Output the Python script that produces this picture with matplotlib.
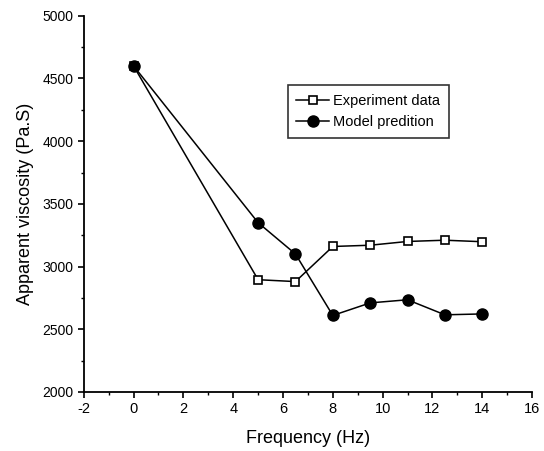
import matplotlib.pyplot as plt
from matplotlib.ticker import MultipleLocator

plt.rcParams['font.family'] = ['Liberation Sans', 'DejaVu Sans']
plt.rcParams['axes.unicode_minus'] = False

freq = [0, 5, 6.5, 8, 9.5, 11, 12.5, 14]
experiment = [4600, 2895, 2880, 3160, 3170, 3200, 3210, 3198]
model = [4600, 3350, 3100, 2610, 2710, 2735, 2615, 2622]

fig = plt.figure(figsize=(5.44, 4.51), dpi=100)
ax = fig.add_axes([0.154, 0.131, 0.824, 0.834])

ax.plot(freq, experiment, color='black', lw=1.1, marker='s', ms=6,
        mfc='white', mec='black', mew=1.2, label='Experiment data')
ax.plot(freq, model, color='black', lw=1.1, marker='o', ms=8,
        mfc='black', mec='black', label='Model predition')

ax.set_xlim(-2, 16)
ax.set_ylim(2000, 5000)
ax.xaxis.set_major_locator(MultipleLocator(2))
ax.xaxis.set_minor_locator(MultipleLocator(1))
ax.yaxis.set_major_locator(MultipleLocator(500))
ax.yaxis.set_minor_locator(MultipleLocator(250))
ax.tick_params(which='major', direction='out', length=4, width=1.2, labelsize=10.5)
ax.tick_params(which='minor', direction='out', length=2.5, width=1.0)
ax.tick_params(axis='y', labelsize=10)

for s in ['top', 'right']:
    ax.spines[s].set_visible(False)
for s in ['left', 'bottom']:
    ax.spines[s].set_linewidth(1.3)

ax.set_xlabel('Frequency (Hz)', fontsize=13, labelpad=10)
ax.set_ylabel('Apparent viscosity (Pa.S)', fontsize=13, labelpad=6)

leg = ax.legend(loc='upper left', bbox_to_anchor=(0.455, 0.816), fontsize=10.5,
                frameon=True, fancybox=False, edgecolor='black',
                handlelength=2.2, handletextpad=0.3, borderpad=0.6,
                borderaxespad=0, labelspacing=0.5)
leg.get_frame().set_linewidth(1.2)

fig.savefig('out.png', dpi=100)
